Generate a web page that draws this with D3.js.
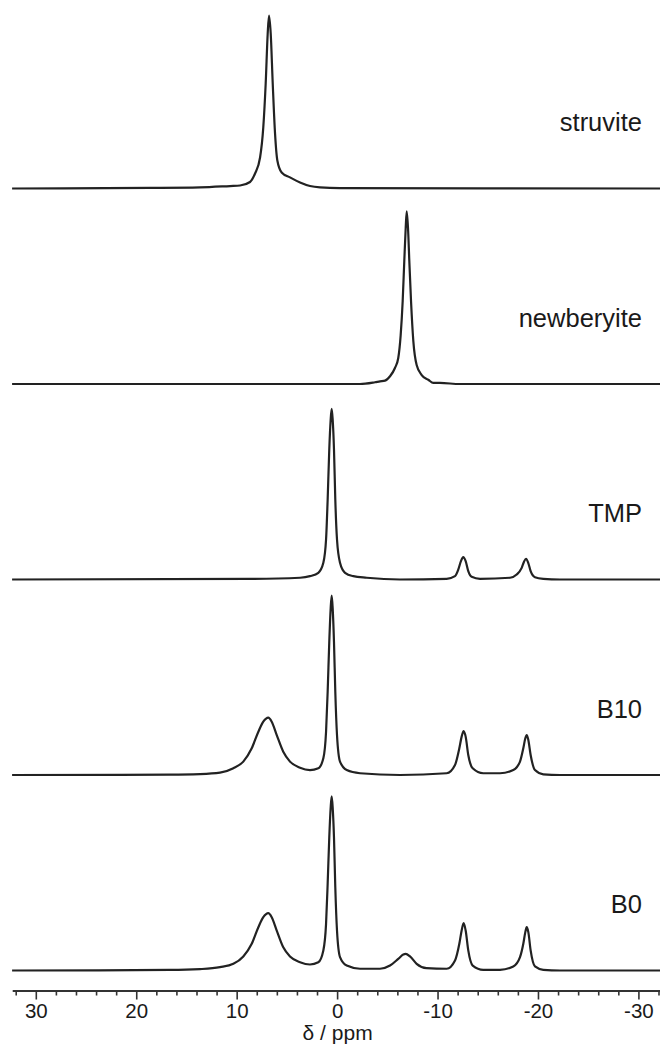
<!DOCTYPE html>
<html><head><meta charset="utf-8">
<script src="https://cdn.jsdelivr.net/npm/d3@7"></script>
<style>html,body{margin:0;padding:0;background:#fff}</style>
</head><body>
<svg id="c" width="660" height="1050"></svg>
<script>
// ---- data (chemical shift in ppm, relative intensity) ----
const names = ["struvite", "newberyite", "TMP", "B10", "B0"];

const struvitePpm = [32.41,18.68,13.70,10.71,9.71,8.72,8.22,7.72,7.40,7.16,6.96,6.83,6.66,6.46,6.23,6.00,5.57,4.74,3.74,2.75,1.75,-0.24,-32.1];
const struviteInt = [0,0.3,0.6,1.4,1.7,3.7,8.5,17.6,34.7,59.7,88.1,98.3,88.1,59.7,31.3,15.9,9.1,6.3,3.4,1.4,0.6,0.2,0];

const newberyitePpm = [32.41,-2.23,-3.72,-4.22,-4.72,-5.22,-5.71,-6.04,-6.28,-6.48,-6.64,-6.78,-6.88,-7.01,-7.14,-7.31,-7.54,-7.87,-8.37,-9.03,-9.53,-10.19,-12.19,-32.1];
const newberyiteInt = [0,0,1.0,1.5,1.9,4.4,9.1,14.8,27.8,47.2,69.9,88.6,98.1,88.6,69.9,47.2,24.4,10.8,5.1,2.4,0.6,0.6,0,0];

const tmpPpm = [32.41,8.72,3.74,2.75,1.92,1.42,1.15,0.99,0.83,0.69,0.59,0.49,0.36,0.23,0.06,-0.24,-0.74,-1.56,-2.90,-6.21,-10.86,-11.69,-12.02,-12.28,-12.51,-12.75,-13.01,-13.35,-14.18,-17.17,-17.83,-18.33,-18.56,-18.76,-18.98,-19.22,-19.65,-20.48,-22.14,-32.1];
const tmpInt = [0,0.3,1.0,1.9,3.8,9.5,22.7,45.5,73.9,90.9,97.0,90.9,73.9,45.5,22.7,9.5,3.8,1.9,1.0,0,0.4,1.9,5.7,10.4,12.7,10.4,4.7,1.5,0.4,1.0,2.8,6.6,10.1,11.8,9.5,4.7,1.3,0.4,0,0];

const b10Ppm = [32.41,16.68,13.70,11.71,10.38,9.39,8.55,7.89,7.40,6.90,6.56,6.06,5.41,4.74,3.74,2.75,1.92,1.42,1.15,0.99,0.83,0.69,0.59,0.49,0.36,0.23,0.06,-0.24,-0.91,-2.23,-6.21,-10.86,-11.69,-12.12,-12.35,-12.55,-12.75,-13.01,-13.45,-14.50,-16.17,-17.49,-18.16,-18.49,-18.69,-18.83,-18.99,-19.22,-19.65,-20.48,-22.14,-32.1];
const b10Int = [0,0.2,0.5,1.3,3.8,7.6,15.2,24.6,30.3,32.6,30.3,22.7,13.2,7.6,4.1,2.8,3.8,9.5,24.6,47.3,75.6,94.7,101.9,94.7,75.6,47.3,22.7,7.6,2.8,1.0,0,1.0,5.7,15.2,21.8,25.0,21.8,11.4,3.8,1.0,1.0,2.8,7.6,15.2,20.9,22.7,19.9,11.4,2.8,0.4,0,0];

const b0Ppm = [32.41,16.68,13.70,11.71,10.38,9.39,8.55,7.89,7.40,6.90,6.56,6.06,5.41,4.74,3.74,2.75,1.92,1.42,1.15,0.99,0.83,0.69,0.59,0.49,0.36,0.23,0.06,-0.24,-0.91,-2.23,-4.22,-5.22,-6.04,-6.54,-6.78,-7.21,-7.87,-8.85,-10.86,-11.69,-12.12,-12.35,-12.55,-12.75,-13.01,-13.45,-14.50,-16.17,-17.49,-18.16,-18.49,-18.69,-18.83,-18.99,-19.22,-19.65,-20.48,-22.14,-32.1];
const b0Int = [0,0.3,0.8,1.9,3.8,8.0,15.2,24.6,30.3,32.6,30.3,22.7,13.2,8.0,4.7,3.4,4.7,11.4,26.5,49.3,75.6,92.6,98.9,92.6,75.6,47.3,22.7,7.6,2.8,1.0,1.0,2.8,6.6,9.1,9.5,8.0,3.8,1.3,1.0,5.7,15.2,22.7,26.9,22.7,11.4,2.8,0.4,0.4,2.3,7.6,15.2,21.8,24.6,21.8,11.4,2.3,0.4,0,0];

const majorTicks = [30, 20, 10, 0, -10, -20, -30];
const minorTicks = [32, 28, 26, 24, 22, 18, 16, 14, 12, 8, 6, 4, 2, -2, -4, -6, -8, -12, -14, -16, -18, -22, -24, -26, -28, -32];
const axisTitle = "δ / ppm";

// ---- drawing ----
const spectra = [
  {name: names[0], ppm: struvitePpm, val: struviteInt},
  {name: names[1], ppm: newberyitePpm, val: newberyiteInt},
  {name: names[2], ppm: tmpPpm, val: tmpInt},
  {name: names[3], ppm: b10Ppm, val: b10Int},
  {name: names[4], ppm: b0Ppm, val: b0Int}
];

const svg = d3.select("#c");
const x = d3.scaleLinear().domain([32.35, -32.1]).range([12.7, 660]);
const base = d3.scalePoint().domain(names).range([188.5, 970.5]);
const h = d3.scaleLinear().domain([0, 100]).range([0, 176]);
const FONT = "Liberation Sans, Arial, sans-serif";

spectra.forEach(s => {
  const pts = s.ppm.map((p, i) => [p, s.val[i]]);
  const b = base(s.name);
  const line = d3.line()
    .x(d => x(d[0]))
    .y(d => b - h(d[1]))
    .curve(d3.curveMonotoneX);
  svg.append("path").attr("d", line(pts))
    .attr("fill", "none").attr("stroke", "#222")
    .attr("stroke-width", 2.2).attr("stroke-linejoin", "round");
  svg.append("text").attr("x", 642).attr("y", b - 57.5)
    .attr("text-anchor", "end")
    .attr("font-family", FONT)
    .attr("font-size", 25.5).attr("fill", "#1a1a1a")
    .text(s.name);
});

// axis
const axisY = 991;
const g = svg.append("g");
g.append("line").attr("x1", 12.7).attr("x2", 660).attr("y1", axisY).attr("y2", axisY)
  .attr("stroke", "#333").attr("stroke-width", 2);
g.selectAll(".minor").data(minorTicks).join("line")
  .attr("x1", d => x(d)).attr("x2", d => x(d))
  .attr("y1", axisY).attr("y2", axisY + 4.5)
  .attr("stroke", "#333").attr("stroke-width", 1.6);
g.selectAll(".major").data(majorTicks).join("line")
  .attr("x1", d => x(d)).attr("x2", d => x(d))
  .attr("y1", axisY).attr("y2", axisY + 8.5)
  .attr("stroke", "#333").attr("stroke-width", 1.6);
g.selectAll(".lab").data(majorTicks).join("text")
  .attr("x", d => x(d)).attr("y", 1018)
  .attr("text-anchor", "middle")
  .attr("font-family", FONT)
  .attr("font-size", 20.5).attr("fill", "#1a1a1a")
  .text(d => d);
svg.append("text").attr("x", x(0)).attr("y", 1039.5)
  .attr("text-anchor", "middle")
  .attr("font-family", FONT)
  .attr("font-size", 21).attr("fill", "#1a1a1a")
  .text(axisTitle);
</script>
</body></html>
